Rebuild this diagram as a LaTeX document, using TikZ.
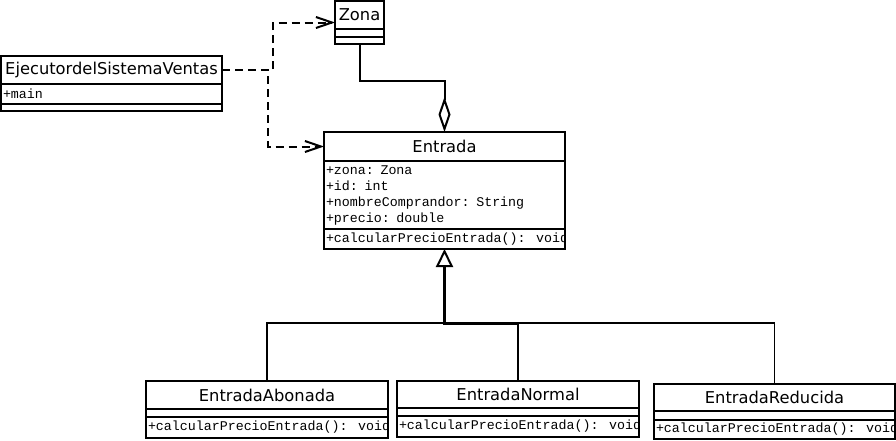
\documentclass[tikz,border=0pt]{standalone}
\usepackage{fontspec}
\newfontfamily\namefont{DejaVu Sans}
\newfontfamily\monofont{Liberation Mono}
\usetikzlibrary{arrows.meta}
\usetikzlibrary{positioning}
\usetikzlibrary{calc}

\tikzset{
	classname/.style={draw, line width=2pt, outer sep=0pt, inner sep=0pt, anchor=north west, font=\namefont\fontsize{16.3}{18}\selectfont},
	members/.style={draw, line width=2pt, outer sep=0pt, inner sep=2pt, align=left, font=\monofont\fontsize{13.3}{16}\selectfont},
	methods/.style={members, path picture={\node[anchor=west, inner sep=2pt, font=\monofont\fontsize{13.3}{16}\selectfont] at (path picture bounding box.west) {#1};}},
}

\begin{document}
\begin{tikzpicture}[
		x=1pt, y=-1pt,
		depend/.style={line width=2pt, dash pattern=on 8pt off 5pt, -{Straight Barb[length=16pt,width=11pt]}},
		aggregate/.style={line width=2pt, -{Diamond[open,length=35pt,width=12pt]}},
		inherit/.style={line width=3pt, {Triangle[open,length=18pt,width=17pt,line width=2pt]}-},
		branch/.style={line width=1.5pt},
	]
		\useasboundingbox (0,0) rectangle (896,440);

		% classes
		\node[classname, minimum width=49pt, minimum height=28pt] (zona) at (335,1) {Zona};
		\node[members, below=0pt of zona, minimum width=49pt, minimum height=8pt] (zona-attr) {};
		\node[members, below=0pt of zona-attr, minimum width=49pt, minimum height=7pt] (zona-op) {};

		\node[classname, minimum width=221pt, minimum height=28pt] (ejecutor) at (1,56) {EjecutordelSistemaVentas};
		\node[members, below=0pt of ejecutor, text width=217pt, minimum height=20pt] (ejecutor-attr) {+main};
		\node[members, below=0pt of ejecutor-attr, minimum width=221pt, minimum height=7pt] (ejecutor-op) {};

		\node[classname, minimum width=241pt, minimum height=29pt] (entrada) at (324,132) {Entrada};
		\node[members, below=0pt of entrada, text width=237pt, minimum height=68pt] (entrada-attr) {+zona: Zona\\+id: int\\+nombreComprandor: String\\+precio: double};
		\node[methods={+calcularPrecioEntrada(): void}, below=0pt of entrada-attr, minimum width=241pt, minimum height=20pt] (entrada-op) {};

		\node[classname, minimum width=242pt, minimum height=28pt] (abonada) at (146,381) {EntradaAbonada};
		\node[members, below=0pt of abonada, minimum width=242pt, minimum height=8pt] (abonada-attr) {};
		\node[methods={+calcularPrecioEntrada(): void}, below=0pt of abonada-attr, minimum width=242pt, minimum height=21pt] (abonada-op) {};

		\node[classname, minimum width=242pt, minimum height=27pt] (normal) at (397,381) {EntradaNormal};
		\node[members, below=0pt of normal, minimum width=242pt, minimum height=8pt] (normal-attr) {};
		\node[methods={+calcularPrecioEntrada(): void}, below=0pt of normal-attr, minimum width=242pt, minimum height=21pt] (normal-op) {};

		\node[classname, minimum width=241pt, minimum height=27pt] (reducida) at (654,384) {EntradaReducida};
		\node[members, below=0pt of reducida, minimum width=241pt, minimum height=9pt] (reducida-attr) {};
		\node[methods={+calcularPrecioEntrada(): void}, below=0pt of reducida-attr, minimum width=241pt, minimum height=19pt] (reducida-op) {};

		% relations
		\draw[depend] (ejecutor.east) -- ++(51,0) |- ($(zona.north west)!.5!(zona-op.south west)$);
		\draw[depend] (ejecutor.east) -- ++(46,0) |- (entrada.west);
		\draw[aggregate] (zona-op.south) -- ++(0,37) -| (entrada.north);

		\path (entrada-op.south) ++(0,74) coordinate (bus);
		\draw[branch] (abonada.north) |- (bus) -| (reducida.north);
		\draw[branch] (normal.north) -- (normal.north |- bus);
		\draw[inherit] (entrada-op.south) -- (bus) -- (normal.north |- bus);
\end{tikzpicture}
\end{document}
